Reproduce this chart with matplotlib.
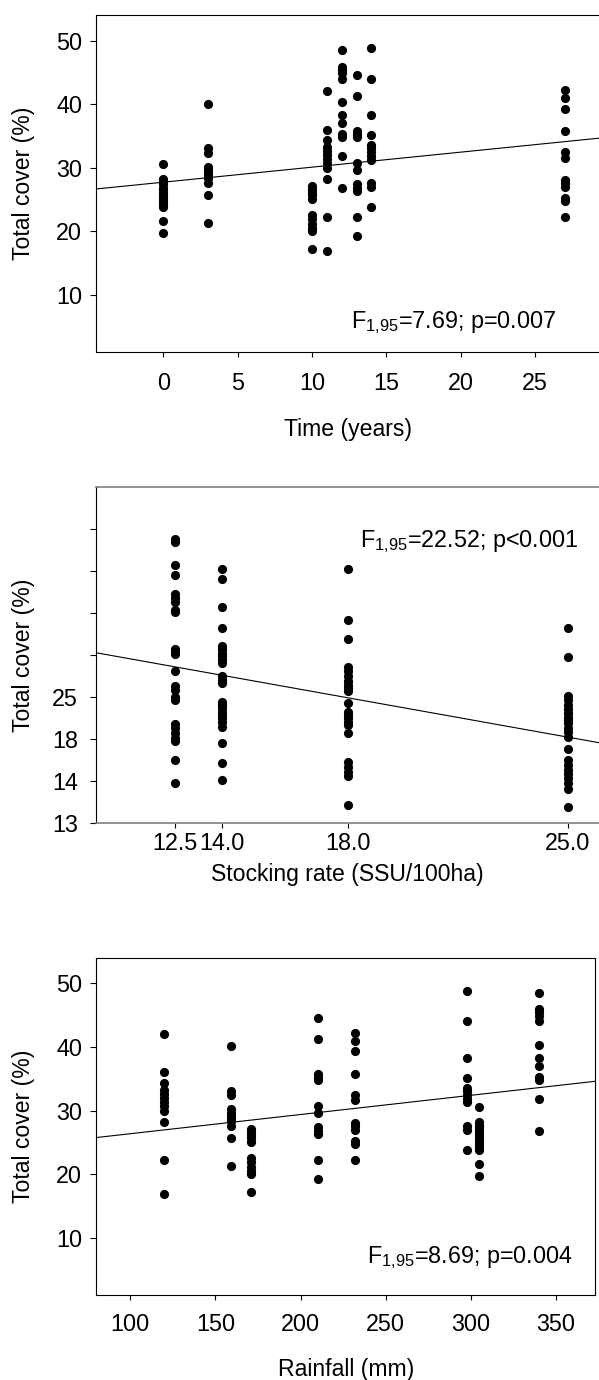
import numpy as np
import matplotlib.pyplot as plt

plt.rcParams['font.family'] = ['Liberation Sans', 'DejaVu Sans']
plt.rcParams['mathtext.fontset'] = 'custom'
plt.rcParams['mathtext.rm'] = 'Liberation Sans'
plt.rcParams['mathtext.it'] = 'Liberation Sans:italic'
plt.rcParams['mathtext.bf'] = 'Liberation Sans:bold'

# each site: time since start (years), rainfall (mm) and cover of its plots
site_years = [0, 3, 10, 11, 12, 13, 14, 27]
site_rain = [305, 159, 171, 120, 340, 210, 298, 232]
site_cover = [
    [30.6, 28.2, 27.8, 27.4, 26.9, 26.5, 26.1, 25.7, 25.2, 24.8, 24.3, 23.9, 21.6, 19.8],
    [40.1, 33.1, 32.4, 30.2, 29.7, 29.2, 28.8, 28.4, 27.6, 25.7, 21.4],
    [27.2, 26.7, 26.2, 25.7, 25.1, 22.6, 21.9, 21.2, 20.6, 20.0, 17.2],
    [42.1, 36.0, 34.4, 33.2, 32.6, 32.0, 31.4, 30.7, 30.0, 28.2, 22.3, 16.9],
    [48.5, 45.9, 45.4, 44.9, 44.0, 40.3, 38.3, 37.0, 35.3, 34.8, 31.8, 26.8],
    [44.6, 41.3, 35.8, 35.3, 34.8, 30.8, 29.6, 27.4, 26.8, 26.3, 22.3, 19.3],
    [48.8, 44.0, 38.3, 35.1, 33.6, 33.1, 32.5, 31.9, 31.3, 27.6, 27.0, 23.8],
    [42.2, 40.9, 39.3, 35.8, 32.5, 31.6, 28.1, 27.6, 27.0, 25.2, 24.8, 22.2],
]

# stocking rate groups
stock_rates = [12.5, 14.0, 18.0, 25.0]
stock_cover = [
    [48.8, 48.5, 45.75, 44.6, 42.3, 41.8, 41.3, 40.4, 40.1, 35.8, 35.4, 35.2,
     33.1, 31.3, 30.9, 30.0, 29.7, 26.8, 26.3, 25.7, 25.1, 24.8, 22.5, 19.8],
    [45.3, 44.05, 40.8, 38.3, 36.1, 35.7, 35.3, 34.9, 34.5, 34.1, 32.5, 32.1,
     31.7, 29.5, 29.1, 28.7, 28.3, 27.9, 27.5, 27.1, 26.5, 24.6, 22.2, 20.2],
    [45.3, 39.2, 37.0, 33.65, 33.1, 32.5, 31.9, 31.5, 31.1, 30.7, 29.3, 28.3,
     27.9, 27.5, 27.1, 26.7, 25.7, 22.3, 21.7, 21.15, 20.6, 17.2],
    [38.3, 34.8, 30.2, 29.7, 29.1, 28.6, 28.1, 27.7, 27.3, 26.9, 26.4, 25.9,
     25.3, 23.9, 22.5, 21.9, 21.4, 20.9, 20.4, 19.8, 19.05, 16.9],
]
stock_yticks = [15, 20, 25, 30, 35, 40, 45, 50]
stock_yticklabels = ['13', '14', '18', '25', '', '', '', '']

# regression lines (intercept, slope)
fit_time = (27.74, 0.236)
fit_stock = (41.99, -0.669)
fit_rain = (23.38, 0.0301)

stats_time = r'F$_{\mathregular{1{,}95}}$=7.69; p=0.007'
stats_stock = r'F$_{\mathregular{1{,}95}}$=22.52; p<0.001'
stats_rain = r'F$_{\mathregular{1{,}95}}$=8.69; p=0.004'

FS = 16.8
LFS = 16.6
SFS = 16.8


def style(ax, xpad, ypad=6):
    ax.tick_params(axis='both', labelsize=FS, direction='out', width=0.8)
    ax.tick_params(axis='x', length=3.8, pad=xpad)
    ax.tick_params(axis='y', length=4.3, pad=ypad)
    for s in ax.spines.values():
        s.set_linewidth(0.8)


def dots(ax, x, y):
    ax.plot(x, y, 'o', color='black', markersize=6.6, markeredgewidth=0)


def fit_line(ax, fit):
    xs = np.array(ax.get_xlim())
    ax.plot(xs, fit[0] + fit[1] * xs, color='black', linewidth=0.8)


fig = plt.figure(figsize=(5.99, 13.8), dpi=100)

# --- time ---
ax1 = fig.add_axes([0.1608, 0.7451, 0.8392, 0.244])
for yr, cov in zip(site_years, site_cover):
    dots(ax1, [yr] * len(cov), cov)
ax1.set_xlim(-4.5, 29.3)
ax1.set_ylim(1.1, 54.0)
fit_line(ax1, fit_time)
ax1.set_xticks([0, 5, 10, 15, 20, 25])
ax1.set_yticks([10, 20, 30, 40, 50])
ax1.spines['right'].set_visible(False)
style(ax1, 11)
ax1.set_xlabel('Time (years)', fontsize=LFS)
ax1.set_ylabel('Total cover (%)', fontsize=LFS)
ax1.xaxis.set_label_coords(0.5, -0.197)
ax1.yaxis.set_label_coords(-0.121, 0.5)
ax1.text(0.507, 0.070, stats_time, transform=ax1.transAxes, fontsize=SFS,
         va='baseline', ha='left')

# --- stocking rate ---
ax2 = fig.add_axes([0.1608, 0.4034, 0.8392, 0.2439])
for sr, cov in zip(stock_rates, stock_cover):
    dots(ax2, [sr] * len(cov), cov)
ax2.set_xlim(10, 26)
ax2.set_ylim(15, 55.07)
fit_line(ax2, fit_stock)
ax2.set_xticks(stock_rates)
ax2.set_xticklabels(['%.1f' % v for v in stock_rates])
ax2.set_yticks(stock_yticks)
ax2.set_yticklabels(stock_yticklabels)
ax2.spines['right'].set_visible(False)
ax2.spines['top'].set_color('#808080')
ax2.spines['bottom'].set_color('#808080')
style(ax2, 2.5, 9)
ax2.spines['top'].set_linewidth(1.2)
ax2.spines['bottom'].set_linewidth(1.2)
ax2.set_xlabel('Stocking rate (SSU/100ha)', fontsize=LFS)
ax2.set_ylabel('Total cover (%)', fontsize=LFS)
ax2.xaxis.set_label_coords(0.5, -0.118)
ax2.yaxis.set_label_coords(-0.121, 0.5)
ax2.text(0.524, 0.821, stats_stock, transform=ax2.transAxes, fontsize=SFS,
         va='baseline', ha='left')

# --- rainfall ---
ax3 = fig.add_axes([0.1608, 0.0616, 0.8326, 0.244])
for rn, cov in zip(site_rain, site_cover):
    dots(ax3, [rn] * len(cov), cov)
ax3.set_xlim(80, 373)
ax3.set_ylim(1.1, 53.9)
fit_line(ax3, fit_rain)
ax3.set_xticks([100, 150, 200, 250, 300, 350])
ax3.set_yticks([10, 20, 30, 40, 50])
style(ax3, 9.5)
ax3.set_xlabel('Rainfall (mm)', fontsize=LFS)
ax3.set_ylabel('Total cover (%)', fontsize=LFS)
ax3.xaxis.set_label_coords(0.5, -0.187)
ax3.yaxis.set_label_coords(-0.122, 0.5)
ax3.text(0.542, 0.095, stats_rain, transform=ax3.transAxes, fontsize=SFS,
         va='baseline', ha='left')

fig.savefig('out.png', dpi=100)
